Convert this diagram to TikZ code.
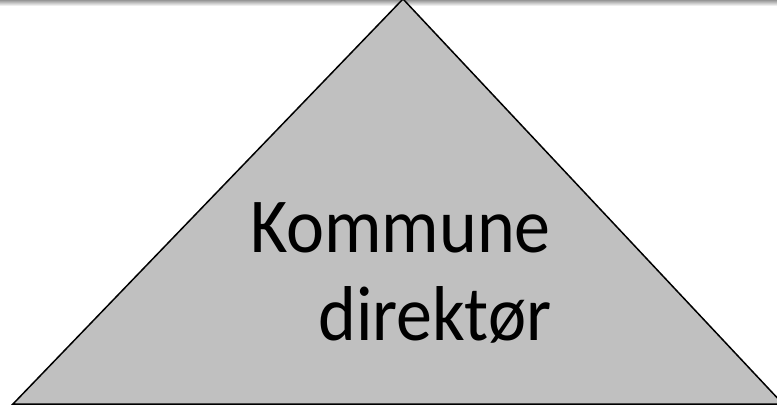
\documentclass[tikz,border=0pt]{standalone}
\usepackage{fontspec}
\setmainfont{Carlito}
\begin{document}
\begin{tikzpicture}[x=1pt,y=-1pt,
  tri/.style={fill={rgb,255:red,192;green,192;blue,192},draw=black,line width=1.5pt,line join=miter},
  lbl/.style={font=\fontsize{72}{80}\selectfont,inner sep=0pt,anchor=base west}]
\useasboundingbox (0,0) rectangle (777,406);
\clip (0,0) rectangle (777,406);
\fill[white] (0,0) rectangle (777,406);
\shade[top color={rgb,255:red,150;green,150;blue,150},bottom color=white] (0,0) rectangle (777,6);
\coordinate (apex) at (403,-1);
\coordinate (bl) at (13,404);
\coordinate (br) at (783,404);
\draw[tri] (apex) -- (bl) -- (br) -- cycle;
\node[lbl] (l1) at (250,253) {\scalebox{1}[1.08]{Kommune}};
\node[lbl] (l2) at (318,341) {\scalebox{1}[1.08]{direktør}};
\end{tikzpicture}
\end{document}
